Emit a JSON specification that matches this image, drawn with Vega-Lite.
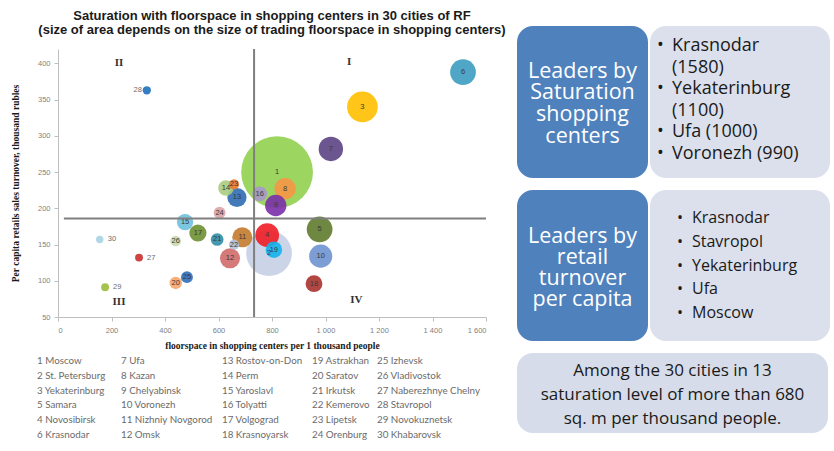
{
  "$schema": "https://vega.github.io/schema/vega-lite/v6.json",
  "padding": {"left": 10, "top": 3, "right": 0, "bottom": 0},
  "background": "white",
  "config": {"view": {"stroke": null}, "axis": {"labelOverlap": false}, "axisY": {"labelOverlap": false, "labelSeparation": 0}},
  "datasets": {
    "cities": [
      {"num": 1, "city": "Moscow", "sqm": 819, "turnover": 250, "area": 3280},
      {"num": 2, "city": "St. Petersburg", "sqm": 789, "turnover": 138, "area": 1330},
      {"num": 3, "city": "Yekaterinburg", "sqm": 1138, "turnover": 340, "area": 600},
      {"num": 5, "city": "Samara", "sqm": 978, "turnover": 171, "area": 420},
      {"num": 4, "city": "Novosibirsk", "sqm": 782, "turnover": 163, "area": 355},
      {"num": 6, "city": "Krasnodar", "sqm": 1514, "turnover": 388, "area": 420},
      {"num": 7, "city": "Ufa", "sqm": 1020, "turnover": 282, "area": 380},
      {"num": 8, "city": "Kazan", "sqm": 849, "turnover": 227, "area": 290},
      {"num": 9, "city": "Chelyabinsk", "sqm": 814, "turnover": 204, "area": 290},
      {"num": 10, "city": "Voronezh", "sqm": 982, "turnover": 134, "area": 340},
      {"num": 11, "city": "Nizhniy Novgorod", "sqm": 689, "turnover": 160, "area": 256},
      {"num": 12, "city": "Omsk", "sqm": 643, "turnover": 131, "area": 256},
      {"num": 13, "city": "Rostov-on-Don", "sqm": 669, "turnover": 215, "area": 235},
      {"num": 14, "city": "Perm", "sqm": 628, "turnover": 228, "area": 155},
      {"num": 15, "city": "Yaroslavl", "sqm": 475, "turnover": 181, "area": 170},
      {"num": 16, "city": "Tolyatti", "sqm": 754, "turnover": 220, "area": 140},
      {"num": 17, "city": "Volgograd", "sqm": 523, "turnover": 166, "area": 188},
      {"num": 18, "city": "Krasnoyarsk", "sqm": 957, "turnover": 96, "area": 180},
      {"num": 19, "city": "Astrakhan", "sqm": 807, "turnover": 143, "area": 173},
      {"num": 20, "city": "Saratov", "sqm": 440, "turnover": 97, "area": 98},
      {"num": 21, "city": "Irkutsk", "sqm": 595, "turnover": 157, "area": 103},
      {"num": 22, "city": "Kemerovo", "sqm": 658, "turnover": 150, "area": 65},
      {"num": 23, "city": "Lipetsk", "sqm": 658, "turnover": 233, "area": 68},
      {"num": 24, "city": "Orenburg", "sqm": 604, "turnover": 194, "area": 90},
      {"num": 25, "city": "Izhevsk", "sqm": 482, "turnover": 105, "area": 90},
      {"num": 26, "city": "Vladivostok", "sqm": 440, "turnover": 155, "area": 72},
      {"num": 27, "city": "Naberezhnye Chelny", "sqm": 303, "turnover": 132, "area": 40},
      {"num": 28, "city": "Stavropol", "sqm": 332, "turnover": 363, "area": 44},
      {"num": 29, "city": "Novokuznetsk", "sqm": 176, "turnover": 91, "area": 40},
      {"num": 30, "city": "Khabarovsk", "sqm": 156, "turnover": 157, "area": 35}
    ]
  },
  "spacing": 11,
  "hconcat": [
    {
      "spacing": 10,
      "vconcat": [
        {
          "width": 428, "height": 30,
          "data": {"values": [
            {"line": 1, "text": "Saturation with floorspace in shopping centers in 30 cities of RF"},
            {"line": 2, "text": "(size of area depends on the size of trading floorspace in shopping centers)"}
          ]},
          "mark": {"type": "text", "font": "Liberation Sans", "fontSize": 13, "fontWeight": "bold", "color": "#1a1a1a"},
          "encoding": {
            "y": {"field": "line", "type": "ordinal", "axis": null, "scale": {"type": "point", "padding": 0.57}},
            "text": {"field": "text"}
          }
        },
        {
          "spacing": 4,
          "vconcat": [
            {
              "width": 428,
              "height": 268,
              "layer": [
                {
                  "data": {"name": "cities"},
                  "mark": {"type": "point", "filled": true, "opacity": 0.9, "strokeWidth": 0},
                  "encoding": {
                    "x": {
                      "field": "sqm", "type": "quantitative",
                      "scale": {"domain": [0, 1600], "nice": false, "zero": false},
                      "axis": {
                        "title": "floorspace in shopping centers per 1 thousand people",
                        "values": [0, 200, 400, 600, 800, 1000, 1200, 1400, 1600],
                        "labelExpr": "replace(format(datum.value, ','), ',', ' ')",
                        "grid": false, "labelOverlap": false,
                        "titleFont": "Liberation Serif", "titleFontSize": 9.5, "titleFontWeight": "bold", "titleColor": "#1a1a1a", "titlePadding": 7,
                        "labelFont": "Liberation Sans", "labelFontSize": 7.5, "labelColor": "#7f7f7f", "labelPadding": 5,
                        "tickSize": 4, "tickColor": "#bfbfbf", "domainColor": "#bfbfbf"
                      }
                    },
                    "y": {
                      "field": "turnover", "type": "quantitative",
                      "scale": {"domain": [50, 420], "nice": false, "zero": false},
                      "axis": {
                        "title": "Per capita retails sales turnover, thousand rubles",
                        "tickCount": 8,
                        "grid": false, "labelOverlap": false,
                        "titleFont": "Liberation Serif", "titleFontSize": 9.5, "titleFontWeight": "bold", "titleColor": "#1a1a1a", "titlePadding": 17,
                        "labelFont": "Liberation Sans", "labelFontSize": 7.5, "labelColor": "#7f7f7f", "labelPadding": 4,
                        "tickSize": 4, "tickColor": "#bfbfbf", "domainColor": "#bfbfbf"
                      }
                    },
                    "size": {"field": "area", "type": "quantitative", "scale": {"type": "linear", "domain": [0, 3300], "range": [0, 5184]}, "legend": null},
                    "color": {
                      "field": "city", "type": "nominal", "legend": null,
                      "scale": {
                        "domain": ["Moscow", "St. Petersburg", "Yekaterinburg", "Samara", "Novosibirsk", "Krasnodar", "Ufa", "Kazan", "Chelyabinsk", "Voronezh", "Nizhniy Novgorod", "Omsk", "Rostov-on-Don", "Perm", "Yaroslavl", "Tolyatti", "Volgograd", "Krasnoyarsk", "Astrakhan", "Saratov", "Irkutsk", "Kemerovo", "Lipetsk", "Orenburg", "Izhevsk", "Vladivostok", "Naberezhnye Chelny", "Stavropol", "Novokuznetsk", "Khabarovsk"],
                        "range": ["#92d050", "#c6cfe4", "#ffc000", "#5e7a2c", "#ee1c25", "#3d9cc0", "#5c4483", "#f79646", "#7a2fa8", "#6f93cf", "#c47a2e", "#d06a6a", "#2f6db2", "#a9cc80", "#6ec0dc", "#a996cc", "#6e9032", "#a8322e", "#12b4ee", "#f8a66a", "#2f8ea6", "#afc2dd", "#e8782c", "#dca4a4", "#2f6fb8", "#c9dbb0", "#c8302d", "#1f70bb", "#9cbb3c", "#a9d3e4"]
                      }
                    },
                    "order": {"field": "area", "sort": "descending"}
                  }
                },
                {
                  "data": {"name": "cities"},
                  "transform": [{"filter": "indexof([27, 28, 29, 30], datum.num) < 0"}],
                  "mark": {"type": "text", "font": "Liberation Sans", "fontSize": 7.5, "color": "#3a3a3a"},
                  "encoding": {
                    "x": {"field": "sqm", "type": "quantitative"},
                    "y": {"field": "turnover", "type": "quantitative"},
                    "text": {"field": "num"}
                  }
                },
                {
                  "data": {"name": "cities"},
                  "transform": [{"filter": "indexof([27, 29, 30], datum.num) >= 0"}],
                  "mark": {"type": "text", "font": "Liberation Sans", "fontSize": 7.5, "color": "#6b6b6b", "align": "left", "dx": 8},
                  "encoding": {
                    "x": {"field": "sqm", "type": "quantitative"},
                    "y": {"field": "turnover", "type": "quantitative"},
                    "text": {"field": "num"}
                  }
                },
                {
                  "data": {"name": "cities"},
                  "transform": [{"filter": "datum.num == 28"}],
                  "mark": {"type": "text", "font": "Liberation Sans", "fontSize": 7.5, "color": "#6b6b6b", "align": "right", "dx": -5},
                  "encoding": {
                    "x": {"field": "sqm", "type": "quantitative"},
                    "y": {"field": "turnover", "type": "quantitative"},
                    "text": {"field": "num"}
                  }
                },
                {
                  "data": {"values": [{"turnover": 186, "sqm": 22, "sqm2": 1600}]},
                  "mark": {"type": "rule", "color": "#7f7f7f", "strokeWidth": 2},
                  "encoding": {
                    "x": {"field": "sqm", "type": "quantitative"},
                    "x2": {"field": "sqm2"},
                    "y": {"field": "turnover", "type": "quantitative"}
                  }
                },
                {
                  "data": {"values": [{"sqm": 733, "turnover": 50, "turnover2": 420}]},
                  "mark": {"type": "rule", "color": "#7f7f7f", "strokeWidth": 2},
                  "encoding": {
                    "x": {"field": "sqm", "type": "quantitative"},
                    "y": {"field": "turnover", "type": "quantitative"},
                    "y2": {"field": "turnover2"}
                  }
                },
                {
                  "data": {"values": [
                    {"q": "I", "sqm": 1088, "turnover": 402},
                    {"q": "II", "sqm": 228, "turnover": 400},
                    {"q": "III", "sqm": 228, "turnover": 71},
                    {"q": "IV", "sqm": 1115, "turnover": 73}
                  ]},
                  "mark": {"type": "text", "font": "Liberation Serif", "fontSize": 11, "fontWeight": "bold", "color": "#333333"},
                  "encoding": {
                    "x": {"field": "sqm", "type": "quantitative"},
                    "y": {"field": "turnover", "type": "quantitative"},
                    "text": {"field": "q"}
                  }
                }
              ]
            },
            {
              "spacing": 0,
              "bounds": "flush",
              "align": "none",
              "hconcat": [
                {
                  "width": 84, "height": 88,
                  "data": {"name": "cities"},
                  "transform": [
                    {"window": [{"op": "row_number", "as": "rn"}]},
                    {"calculate": "floor((datum.rn - 1) / 6)", "as": "col"},
                    {"calculate": "(datum.rn - 1) % 6", "as": "row"},
                    {"calculate": "datum.num + ' ' + datum.city", "as": "label"},
                    {"filter": "datum.col == 0"}
                  ],
                  "mark": {"type": "text", "align": "left", "font": "Lato", "fontSize": 9.8, "color": "#6b6b6b", "dx": -21},
                  "encoding": {
                    "x": {"field": "col", "type": "ordinal", "axis": null, "scale": {"type": "point", "padding": 0, "align": 0}},
                    "y": {"field": "row", "type": "ordinal", "axis": null, "scale": {"paddingInner": 0, "paddingOuter": 0}},
                    "text": {"field": "label"}
                  }
                },
                {
                  "width": 101, "height": 88,
                  "data": {"name": "cities"},
                  "transform": [
                    {"window": [{"op": "row_number", "as": "rn"}]},
                    {"calculate": "floor((datum.rn - 1) / 6)", "as": "col"},
                    {"calculate": "(datum.rn - 1) % 6", "as": "row"},
                    {"calculate": "datum.num + ' ' + datum.city", "as": "label"},
                    {"filter": "datum.col == 1"}
                  ],
                  "mark": {"type": "text", "align": "left", "font": "Lato", "fontSize": 9.8, "color": "#6b6b6b", "dx": -21},
                  "encoding": {
                    "x": {"field": "col", "type": "ordinal", "axis": null, "scale": {"type": "point", "padding": 0, "align": 0}},
                    "y": {"field": "row", "type": "ordinal", "axis": null, "scale": {"paddingInner": 0, "paddingOuter": 0}},
                    "text": {"field": "label"}
                  }
                },
                {
                  "width": 90, "height": 88,
                  "data": {"name": "cities"},
                  "transform": [
                    {"window": [{"op": "row_number", "as": "rn"}]},
                    {"calculate": "floor((datum.rn - 1) / 6)", "as": "col"},
                    {"calculate": "(datum.rn - 1) % 6", "as": "row"},
                    {"calculate": "datum.num + ' ' + datum.city", "as": "label"},
                    {"filter": "datum.col == 2"}
                  ],
                  "mark": {"type": "text", "align": "left", "font": "Lato", "fontSize": 9.8, "color": "#6b6b6b", "dx": -21},
                  "encoding": {
                    "x": {"field": "col", "type": "ordinal", "axis": null, "scale": {"type": "point", "padding": 0, "align": 0}},
                    "y": {"field": "row", "type": "ordinal", "axis": null, "scale": {"paddingInner": 0, "paddingOuter": 0}},
                    "text": {"field": "label"}
                  }
                },
                {
                  "width": 65, "height": 88,
                  "data": {"name": "cities"},
                  "transform": [
                    {"window": [{"op": "row_number", "as": "rn"}]},
                    {"calculate": "floor((datum.rn - 1) / 6)", "as": "col"},
                    {"calculate": "(datum.rn - 1) % 6", "as": "row"},
                    {"calculate": "datum.num + ' ' + datum.city", "as": "label"},
                    {"filter": "datum.col == 3"}
                  ],
                  "mark": {"type": "text", "align": "left", "font": "Lato", "fontSize": 9.8, "color": "#6b6b6b", "dx": -21},
                  "encoding": {
                    "x": {"field": "col", "type": "ordinal", "axis": null, "scale": {"type": "point", "padding": 0, "align": 0}},
                    "y": {"field": "row", "type": "ordinal", "axis": null, "scale": {"paddingInner": 0, "paddingOuter": 0}},
                    "text": {"field": "label"}
                  }
                },
                {
                  "width": 95, "height": 88,
                  "data": {"name": "cities"},
                  "transform": [
                    {"window": [{"op": "row_number", "as": "rn"}]},
                    {"calculate": "floor((datum.rn - 1) / 6)", "as": "col"},
                    {"calculate": "(datum.rn - 1) % 6", "as": "row"},
                    {"calculate": "datum.num + ' ' + datum.city", "as": "label"},
                    {"filter": "datum.col == 4"}
                  ],
                  "mark": {"type": "text", "align": "left", "font": "Lato", "fontSize": 9.8, "color": "#6b6b6b", "dx": -21},
                  "encoding": {
                    "x": {"field": "col", "type": "ordinal", "axis": null, "scale": {"type": "point", "padding": 0, "align": 0}},
                    "y": {"field": "row", "type": "ordinal", "axis": null, "scale": {"paddingInner": 0, "paddingOuter": 0}},
                    "text": {"field": "label"}
                  }
                }
              ]
            }
          ]
        }
      ]
    },
    {
      "spacing": 12,
      "vconcat": [
        {
          "width": 10, "height": 2,
          "data": {"values": [{}]},
          "mark": {"type": "text"},
          "encoding": {"text": {"value": ""}}
        },
        {
          "spacing": 2,
          "hconcat": [
            {
              "width": 131, "height": 152,
              "view": {"fill": "#4f81bd", "cornerRadius": 16, "stroke": null},
              "data": {"values": [
                {"line": 1, "text": "Leaders by"},
                {"line": 2, "text": "Saturation"},
                {"line": 3, "text": "shopping"},
                {"line": 4, "text": "centers"}
              ]},
              "mark": {"type": "text", "font": "Open Sans", "fontSize": 21.5, "color": "white"},
              "encoding": {
                "y": {"field": "line", "type": "quantitative", "axis": null, "scale": {"domain": [-1.1, 5.9], "reverse": true, "nice": false, "zero": false}},
                "text": {"field": "text"}
              }
            },
            {
              "width": 180, "height": 152,
              "view": {"fill": "#dbe0ec", "cornerRadius": 16, "stroke": null},
              "data": {"values": [
                {"line": 1, "text": "Krasnodar", "bullet": true},
                {"line": 2, "text": "(1580)", "bullet": false},
                {"line": 3, "text": "Yekaterinburg", "bullet": true},
                {"line": 4, "text": "(1100)", "bullet": false},
                {"line": 5, "text": "Ufa (1000)", "bullet": true},
                {"line": 6, "text": "Voronezh (990)", "bullet": true}
              ]},
              "encoding": {
                "y": {"field": "line", "type": "quantitative", "axis": null, "scale": {"domain": [0.07, 7.11], "reverse": true, "nice": false, "zero": false}}
              },
              "layer": [
                {
                  "transform": [{"filter": "datum.bullet"}],
                  "mark": {"type": "text", "font": "Open Sans", "fontSize": 18, "color": "#1a1a1a", "align": "left", "dx": -83},
                  "encoding": {"text": {"value": "•"}}
                },
                {
                  "mark": {"type": "text", "font": "Open Sans", "fontSize": 18, "color": "#1a1a1a", "align": "left", "dx": -68},
                  "encoding": {"text": {"field": "text"}}
                }
              ]
            }
          ]
        },
        {
          "spacing": 2,
          "hconcat": [
            {
              "width": 131, "height": 151,
              "view": {"fill": "#4f81bd", "cornerRadius": 16, "stroke": null},
              "data": {"values": [
                {"line": 1, "text": "Leaders  by"},
                {"line": 2, "text": "retail"},
                {"line": 3, "text": "turnover"},
                {"line": 4, "text": "per capita"}
              ]},
              "mark": {"type": "text", "font": "Open Sans", "fontSize": 21.5, "color": "white"},
              "encoding": {
                "y": {"field": "line", "type": "quantitative", "axis": null, "scale": {"domain": [-1.24, 5.95], "reverse": true, "nice": false, "zero": false}},
                "text": {"field": "text"}
              }
            },
            {
              "width": 180, "height": 151,
              "view": {"fill": "#dbe0ec", "cornerRadius": 16, "stroke": null},
              "data": {"values": [
                {"line": 1, "text": "Krasnodar"},
                {"line": 2, "text": "Stavropol"},
                {"line": 3, "text": "Yekaterinburg"},
                {"line": 4, "text": "Ufa"},
                {"line": 5, "text": "Moscow"}
              ]},
              "encoding": {
                "y": {"field": "line", "type": "quantitative", "axis": null, "scale": {"domain": [-0.18, 6.18], "reverse": true, "nice": false, "zero": false}}
              },
              "layer": [
                {
                  "mark": {"type": "text", "font": "Open Sans", "fontSize": 16, "color": "#1a1a1a", "align": "left", "dx": -63},
                  "encoding": {"text": {"value": "•"}}
                },
                {
                  "mark": {"type": "text", "font": "Open Sans", "fontSize": 16, "color": "#1a1a1a", "align": "left", "dx": -48},
                  "encoding": {"text": {"field": "text"}}
                }
              ]
            }
          ]
        },
        {
          "width": 311, "height": 80,
          "view": {"fill": "#d6dce9", "cornerRadius": 16, "stroke": null},
          "data": {"values": [
            {"line": 1, "text": "Among the 30 cities in 13"},
            {"line": 2, "text": "saturation level of more than 680"},
            {"line": 3, "text": "sq. m per thousand people."}
          ]},
          "mark": {"type": "text", "font": "Open Sans", "fontSize": 17, "color": "#1a1a1a"},
          "encoding": {
            "y": {"field": "line", "type": "quantitative", "axis": null, "scale": {"domain": [0.25, 3.58], "reverse": true, "nice": false, "zero": false}},
            "text": {"field": "text"}
          }
        }
      ]
    }
  ]
}
